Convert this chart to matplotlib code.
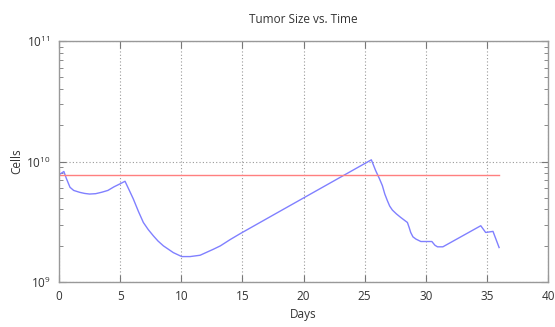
import matplotlib
matplotlib.use("Agg")
import matplotlib.pyplot as plt
import numpy as np

days = [0.0, 0.4, 0.6, 0.9, 1.2, 1.7, 2.1, 2.5, 3.0, 3.5, 4.0, 4.5, 5.0, 5.4,
        5.8, 6.08, 6.5, 6.9, 7.3, 7.72, 8.1, 8.54, 9.35, 10.04, 10.72, 11.54, 12.63, 13.2,
        14.0, 14.8,
        17.7, 25.55, 25.9, 26.2, 26.45, 26.65, 26.86, 27.05, 27.27, 27.6, 27.95, 28.5, 28.65,
        28.77, 28.95, 29.2, 29.6, 30.5, 30.75, 30.96, 31.4, 34.5, 34.9, 35.5, 36.0]
log_cells = [9.89, 9.917, 9.86, 9.786, 9.76, 9.744, 9.735, 9.73, 9.733, 9.745, 9.76, 9.79,
             9.815, 9.836,
             9.75, 9.689, 9.585, 9.494, 9.435, 9.383, 9.34, 9.30, 9.244, 9.211, 9.211, 9.222,
             9.272, 9.30, 9.352, 9.40,
             9.566, 10.014, 9.925, 9.86, 9.80, 9.73, 9.675, 9.63, 9.597, 9.565, 9.536, 9.494,
             9.45, 9.411, 9.375, 9.356, 9.336, 9.336, 9.305, 9.292, 9.292, 9.467, 9.411,
             9.42, 9.286]
cells = [10 ** v for v in log_cells]
threshold_days = [0.0, 36.0]
threshold_cells = [7.75e9, 7.75e9]

plt.rcParams['font.family'] = ['Open Sans', 'DejaVu Sans']
fig = plt.figure(figsize=(5.55, 3.27), dpi=100)
ax = fig.add_axes([0.1063, 0.1376, 0.8811, 0.737])

ax.plot(days, cells, color='#8080ff', lw=1.0)
ax.plot(threshold_days, threshold_cells, color='#ff7f7f', lw=1.0)

ax.set_yscale('log')
ax.set_xlim(0, 40)
ax.set_ylim(1e9, 1e11)
ax.set_xticks([0, 5, 10, 15, 20, 25, 30, 35, 40])
ax.set_yticks([1e9, 1e10, 1e11])
ax.grid(True, which='major', color='#999999', linestyle=(0, (1, 2)), lw=0.8)
for s in ax.spines.values():
    s.set_color('#999999')
    s.set_linewidth(1.0)
ax.tick_params(which='both', direction='in', top=True, right=True, colors='#777777',
               labelcolor='#333333', labelsize=8.5)
ax.tick_params(which='major', length=5, pad=6)
ax.tick_params(which='minor', length=3)
ax.tick_params(axis='x', which='minor', bottom=False, top=False)
ax.set_title('Tumor Size vs. Time', fontsize=8.5, color='#333333', pad=13)
ax.set_xlabel('Days', fontsize=8.5, color='#333333', labelpad=3)
ax.set_ylabel('Cells', fontsize=8.5, color='#333333', labelpad=2)

fig.savefig('out.png', dpi=100)
